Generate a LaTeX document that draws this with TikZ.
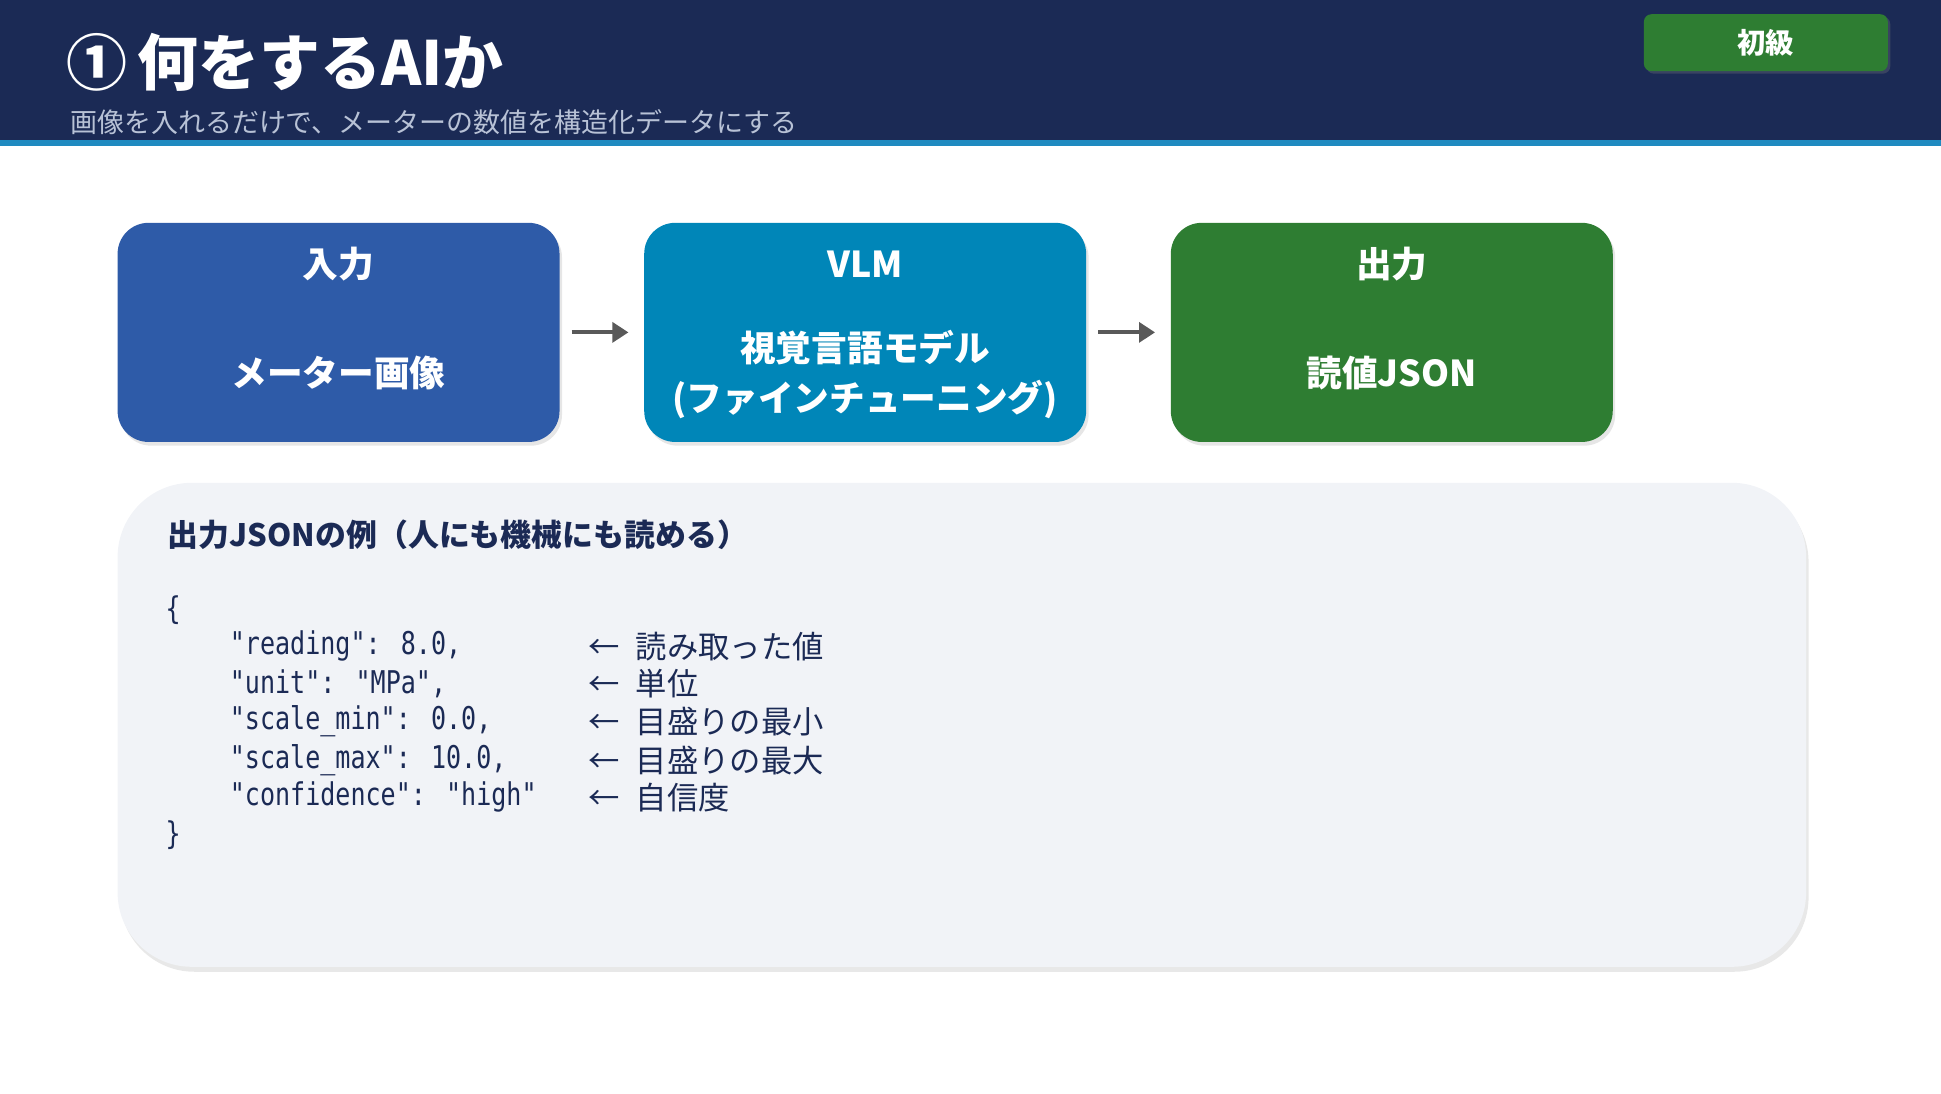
\documentclass[tikz,border=0pt]{standalone}
\usepackage{fontspec}
\setmainfont{Noto Sans CJK JP}
\newfontfamily\codefont[FakeStretch=0.8]{DejaVu Sans Mono}
\usetikzlibrary{positioning, arrows.meta, shadows}
\definecolor{navy}{HTML}{1B2A55}
\definecolor{lineblue}{HTML}{1F8AC0}
\definecolor{inblue}{HTML}{2E5BA8}
\definecolor{vlmblue}{HTML}{0086B8}
\definecolor{outgreen}{HTML}{2E7D32}
\definecolor{panelgray}{HTML}{F1F3F7}
\definecolor{subgray}{HTML}{B8C2D6}
\begin{document}
\begin{tikzpicture}[
    stepNode/.style = {rectangle, rounded corners=0.25cm, minimum width=3.57cm, minimum height=1.77cm,
                       drop shadow={opacity=0.2, shadow xshift=0.02cm, shadow yshift=-0.03cm}},
    stepText/.style = {text=white, font=\bfseries\fontsize{8.2}{11.5}\selectfont, align=center},
    codeLine/.style = {anchor=west, font=\codefont\fontsize{7.2}{9}\selectfont, text=navy, inner sep=0},
    noteLine/.style = {anchor=west, font=\fontsize{7.2}{9}\selectfont, text=navy, inner sep=0},
    myarrow/.style = {-{Triangle[length=0.13cm, width=0.16cm]}, line width=0.9pt, draw=black!65}
]
\useasboundingbox (0,0) rectangle (15.68,-8.83);
% header
\fill[navy] (0,0) rectangle (15.68,-1.13);
\fill[lineblue] (0,-1.13) rectangle (15.68,-1.18);
\node[anchor=west, text=white, font=\bfseries\fontsize{14}{16}\selectfont, inner sep=0] (title) at (0.53,-0.5) {①\,何をするAIか};
\node[anchor=west, text=subgray, font=\fontsize{6.2}{8}\selectfont, inner sep=0] (subtitle) at (0.56,-0.99) {画像を入れるだけで、メーターの数値を構造化データにする};
\node[rectangle, rounded corners=0.06cm, fill=outgreen, text=white, minimum width=1.97cm, minimum height=0.46cm,
      font=\bfseries\fontsize{6.5}{8}\selectfont, drop shadow={opacity=0.3, shadow xshift=0.02cm, shadow yshift=-0.02cm}] (level) at (14.265,-0.345) {初級};

% flow
\node[stepNode, fill=inblue] (input) at (2.735,-2.685) {};
\node[stepNode, fill=vlmblue, right=0.67cm of input] (vlm) {};
\node[stepNode, fill=outgreen, right=0.67cm of vlm] (output) {};
\node[stepText] at ([yshift=-0.34cm]input.north) {入力};
\node[stepText] at ([yshift=-0.34cm]vlm.north) {VLM};
\node[stepText] at ([yshift=-0.34cm]output.north) {出力};
\node[stepText] at ([yshift=-0.33cm]input.center) {メーター画像};
\node[stepText] at ([yshift=-0.34cm]vlm.center) {視覚言語モデル\\(ファインチューニング)};
\node[stepText] at ([yshift=-0.33cm]output.center) {読値JSON};
\draw[myarrow] ([xshift=0.09cm]input.east) -- ([xshift=-0.12cm]vlm.west);
\draw[myarrow] ([xshift=0.09cm]vlm.east) -- ([xshift=-0.12cm]output.west);

% example panel
\node[rectangle, rounded corners=0.6cm, fill=panelgray, minimum width=13.64cm, minimum height=3.91cm,
      drop shadow={opacity=0.18, shadow xshift=0.02cm, shadow yshift=-0.04cm}] (panel) at (7.77,-5.855) {};
\node[anchor=west, text=navy, font=\bfseries\fontsize{7.1}{10}\selectfont, inner sep=0] (panelTitle) at (1.35,-4.32) {出力JSONの例（人にも機械にも読める）};

\node[codeLine] (open) at (1.33,-4.93) {\{};
\foreach \y/\key/\note in {5.22/{"reading": 8.0,}/読み取った値,
                           5.52/{"unit": "MPa",}/単位,
                           5.83/{"scale\textunderscore min": 0.0,}/目盛りの最小,
                           6.14/{"scale\textunderscore max": 10.0,}/目盛りの最大,
                           6.44/{"confidence": "high"}/自信度}{
    \node[codeLine] at (1.85,-\y) {\key};
    \node[noteLine] at (4.75,-\y) {←\enspace\note};
}
\node[codeLine] (close) at (1.33,-6.75) {\}};
\end{tikzpicture}
\end{document}
